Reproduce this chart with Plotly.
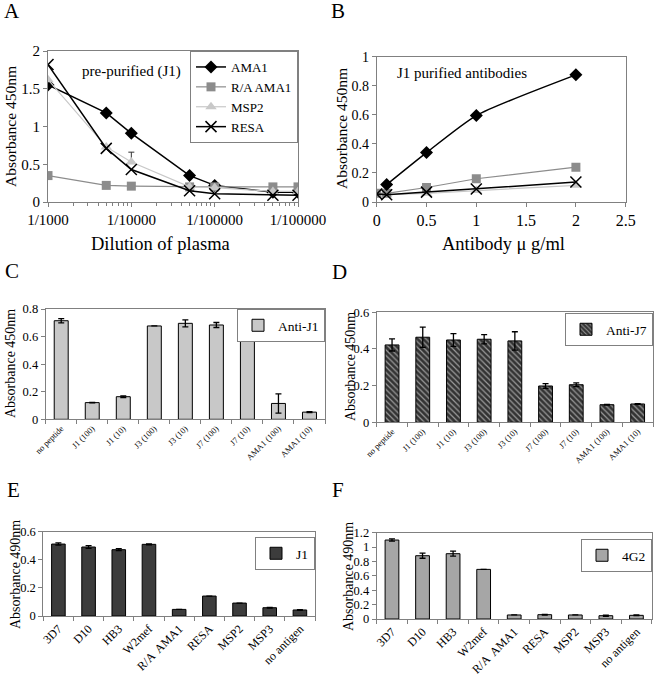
import plotly.graph_objects as go

# ---------------- Panel A data ----------------
dilution = [1000, 5000, 10000, 50000, 100000, 500000, 1000000]
dil_tickvals = [1000, 10000, 100000, 1000000]
dil_ticktext = ["1/1000", "1/10000", "1/100000", "1/100000"]
a_ama1 = [1.55, 1.18, 0.91, 0.35, 0.22, 0.13, 0.13]
a_ra_ama1 = [0.35, 0.22, 0.21, 0.20, 0.20, 0.20, 0.20]
a_msp2 = [1.62, 0.73, 0.53, 0.20, 0.19, 0.14, 0.14]
a_msp2_err = [0, 0, 0.13, 0, 0, 0, 0]
a_resa = [1.82, 0.71, 0.43, 0.15, 0.11, 0.09, 0.09]

# ---------------- Panel B data ----------------
b_conc = [0, 0.1, 0.5, 1, 2]
b_ama1_conc = [0.1, 0.5, 1, 2]
b_ama1 = [0.12, 0.34, 0.595, 0.875]
b_ra_ama1 = [0.06, 0.06, 0.10, 0.16, 0.24]
b_msp2 = [0.05, 0.05, 0.06, 0.08, 0.115]
b_resa = [0.055, 0.05, 0.068, 0.09, 0.137]

# ---------------- Panel C / D data ----------------
peptides = ["no peptide", "J1 (100)", "J1 (10)", "J3 (100)", "J3 (10)",
            "J7 (100)", "J7 (10)", "AMA1 (100)", "AMA1 (10)"]
c_anti_j1 = [0.715, 0.121, 0.164, 0.677, 0.696, 0.684, 0.686, 0.115, 0.052]
c_anti_j1_err = [0.015, 0.002, 0.006, 0.0, 0.025, 0.018, 0.01, 0.07, 0.004]
d_anti_j7 = [0.422, 0.464, 0.449, 0.453, 0.444, 0.198, 0.205, 0.096, 0.100]
d_anti_j7_err = [0.033, 0.055, 0.035, 0.025, 0.05, 0.013, 0.01, 0.002, 0.002]

# ---------------- Panel E / F data ----------------
antigens = ["3D7", "D10", "HB3", "W2mef", "R/A  AMA1", "RESA", "MSP2", "MSP3", "no antigen"]
e_j1 = [0.512, 0.491, 0.472, 0.510, 0.047, 0.142, 0.092, 0.059, 0.043]
e_j1_err = [0.008, 0.01, 0.007, 0.003, 0.0, 0.0, 0.0, 0.003, 0.003]
f_4g2 = [1.098, 0.88, 0.908, 0.69, 0.056, 0.06, 0.056, 0.046, 0.051]
f_4g2_err = [0.015, 0.035, 0.035, 0.0, 0.0, 0.005, 0.0, 0.008, 0.005]

W, H = 654, 676
FONT = "Liberation Serif"


def px_x(v):
    return v / W


def px_y(v):
    return 1 - v / H


fig = go.Figure()

# Panel A traces
fig.add_trace(go.Scatter(x=dilution, y=a_ama1, name="AMA1", mode="lines+markers",
                         line=dict(color="black", width=1.5),
                         marker=dict(symbol="diamond", size=10, color="black"),
                         xaxis="x", yaxis="y", legend="legend"))
fig.add_trace(go.Scatter(x=dilution, y=a_ra_ama1, name="R/A AMA1", mode="lines+markers",
                         line=dict(color="#8c8c8c", width=1.2),
                         marker=dict(symbol="square", size=9, color="#8c8c8c"),
                         xaxis="x", yaxis="y", legend="legend"))
fig.add_trace(go.Scatter(x=dilution, y=a_msp2, name="MSP2", mode="lines+markers",
                         line=dict(color="#c8c8c8", width=1.2),
                         marker=dict(symbol="triangle-up", size=10, color="#c8c8c8"),
                         error_y=dict(type="data", array=a_msp2_err,
                                      arrayminus=[0] * len(a_msp2_err), symmetric=False,
                                      color="#333333", thickness=1, width=3),
                         xaxis="x", yaxis="y", legend="legend"))
fig.add_trace(go.Scatter(x=dilution, y=a_resa, name="RESA", mode="lines+markers",
                         line=dict(color="black", width=1.5),
                         marker=dict(symbol="x-thin", size=11, color="black",
                                     line=dict(color="black", width=1.5)),
                         xaxis="x", yaxis="y", legend="legend"))

# Panel B traces
fig.add_trace(go.Scatter(x=b_conc, y=b_msp2, mode="lines+markers", showlegend=False,
                         line=dict(color="#c8c8c8", width=1.2),
                         marker=dict(symbol="triangle-up", size=10, color="#c8c8c8"),
                         xaxis="x2", yaxis="y2"))
fig.add_trace(go.Scatter(x=b_conc, y=b_ra_ama1, mode="lines+markers", showlegend=False,
                         line=dict(color="#8c8c8c", width=1.2),
                         marker=dict(symbol="square", size=9, color="#8c8c8c"),
                         xaxis="x2", yaxis="y2"))
fig.add_trace(go.Scatter(x=b_conc, y=b_resa, mode="lines+markers", showlegend=False,
                         line=dict(color="black", width=1.5),
                         marker=dict(symbol="x-thin", size=11, color="black",
                                     line=dict(color="black", width=1.5)),
                         xaxis="x2", yaxis="y2"))
fig.add_trace(go.Scatter(x=b_ama1_conc, y=b_ama1, mode="lines+markers", showlegend=False,
                         line=dict(color="black", width=1.5, shape="spline", smoothing=0.6),
                         marker=dict(symbol="diamond", size=10, color="black"),
                         xaxis="x2", yaxis="y2"))

ERR = dict(type="data", color="black", thickness=1.3, width=3)

# Panel C
fig.add_trace(go.Bar(x=peptides, y=c_anti_j1, name="Anti-J1",
                     marker=dict(color="#c8c8c8", line=dict(color="black", width=1)),
                     error_y=dict(array=c_anti_j1_err, **ERR),
                     xaxis="x3", yaxis="y3", legend="legend2"))
# Panel D
fig.add_trace(go.Bar(x=peptides, y=d_anti_j7, name="Anti-J7",
                     marker=dict(color="#333333", line=dict(color="black", width=1),
                                 pattern=dict(shape="\\", fgcolor="#9a9a9a", bgcolor="#333333",
                                              size=4, solidity=0.3)),
                     error_y=dict(array=d_anti_j7_err, **ERR),
                     xaxis="x4", yaxis="y4", legend="legend3"))
# Panel E
fig.add_trace(go.Bar(x=antigens, y=e_j1, name="J1",
                     marker=dict(color="#3c3c3c", line=dict(color="black", width=1)),
                     error_y=dict(array=e_j1_err, **ERR),
                     xaxis="x5", yaxis="y5", legend="legend4"))
# Panel F
fig.add_trace(go.Bar(x=antigens, y=f_4g2, name="4G2",
                     marker=dict(color="#a6a6a6", line=dict(color="black", width=1)),
                     error_y=dict(array=f_4g2_err, **ERR),
                     xaxis="x6", yaxis="y6", legend="legend5"))

# domains (pixels)
doms = {
    1: ((48, 298), (51, 202)),
    2: ((376.7, 625.7), (56.7, 202)),
    3: ((45.7, 325), (309, 419.3)),
    4: ((376.7, 653), (312.3, 422.3)),
    5: ((43.3, 315), (531.7, 616)),
    6: ((376.7, 651.7), (532.7, 619)),
}

axis_common = dict(showline=True, linecolor="#808080", linewidth=1, mirror=True,
                   showgrid=False, zeroline=False, ticks="outside", ticklen=4,
                   automargin=False,
                   tickcolor="#808080", tickfont=dict(family=FONT, size=15, color="black"))

layout = {}
for i, ((x0, x1), (y0, y1)) in doms.items():
    xs = "xaxis" if i == 1 else f"xaxis{i}"
    ys = "yaxis" if i == 1 else f"yaxis{i}"
    xa = dict(axis_common)
    ya = dict(axis_common)
    xa.update(domain=[px_x(x0), px_x(x1)], anchor="y" if i == 1 else f"y{i}")
    ya.update(domain=[px_y(y1), px_y(y0)], anchor="x" if i == 1 else f"x{i}")
    layout[xs] = xa
    layout[ys] = ya

layout["xaxis"].update(type="log", range=[3, 6], tickmode="array",
                       tickvals=dil_tickvals, ticktext=dil_ticktext,
                       minor=dict(ticks="outside", ticklen=3, tickcolor="#808080",
                                  tickmode="linear", dtick="D1", showgrid=False))
layout["yaxis"].update(range=[0, 2], dtick=0.5)
layout["xaxis2"].update(range=[0, 2.5], dtick=0.5, tickfont=dict(family=FONT, size=16, color="black"))
layout["yaxis2"].update(range=[0, 1], dtick=0.2, tickfont=dict(family=FONT, size=14, color="black"))

for i in (3, 4, 5, 6):
    xs = f"xaxis{i}"
    layout[xs].update(tickson="boundaries", tickangle=-45,
                      tickfont=dict(family=FONT, size=8.5 if i in (3, 4) else 12, color="black"))
    layout[f"yaxis{i}"].update(tickfont=dict(family=FONT, size=12.5, color="black"))
layout["yaxis3"].update(range=[0, 0.8], dtick=0.2)
layout["yaxis4"].update(range=[0, 0.6], dtick=0.2)
layout["yaxis5"].update(range=[0, 0.6], dtick=0.2)
layout["yaxis6"].update(range=[0, 1.2], dtick=0.2)

leg_common = dict(bgcolor="white", bordercolor="#808080", borderwidth=1,
                  xanchor="right", yanchor="top", tracegroupgap=0,
                  font=dict(family=FONT, size=13.5, color="black"))
layout["legend"] = dict(leg_common, x=px_x(298), y=px_y(51), itemwidth=30,
                        font=dict(family=FONT, size=13, color="black"))
layout["legend2"] = dict(leg_common, x=px_x(325), y=px_y(309))
layout["legend3"] = dict(leg_common, x=px_x(653), y=px_y(313))
layout["legend4"] = dict(leg_common, x=px_x(315), y=px_y(537))
layout["legend5"] = dict(leg_common, x=px_x(652), y=px_y(539))

annotations = []


def ann(text, x, y, size, angle=0):
    annotations.append(dict(text=text, x=px_x(x), y=px_y(y), xref="paper", yref="paper",
                            showarrow=False, textangle=angle, xanchor="center", yanchor="middle",
                            font=dict(family=FONT, size=size, color="black")))


# panel letters
for letter, (lx, ly) in {"A": (12, 11), "B": (338, 11), "C": (12, 271), "D": (339, 272),
                         "E": (13, 490), "F": (338, 490)}.items():
    ann(letter, lx, ly, 21)

ann("pre-purified (J1)", 131, 72, 15)
ann("J1 purified antibodies", 462, 73, 15)
ann("Dilution of plasma", 160, 244, 18.5)
ann("Antibody μ g/ml", 503, 244, 18.5)
ann("Absorbance 450nm", 10, 127, 15.5, -90)
ann("Absorbance 450nm", 341, 129, 15.5, -90)
ann("Absorbance 450nm", 10, 364, 14, -90)
ann("Absorbance 450nm", 350, 367, 14, -90)
ann("Absorbance 490nm", 15, 575, 14, -90)
ann("Absorbance 490nm", 348, 577, 14, -90)

fig.update_layout(**layout)
fig.update_layout(template="none", width=W, height=H, margin=dict(l=0, r=0, t=0, b=0),
                  paper_bgcolor="white", plot_bgcolor="white",
                  font=dict(family=FONT, color="black"),
                  bargap=0.55, annotations=annotations)

fig.write_html("out.html", config={"displayModeBar": False},
               post_script="document.body.style.margin='0';document.body.style.overflow='hidden';")
